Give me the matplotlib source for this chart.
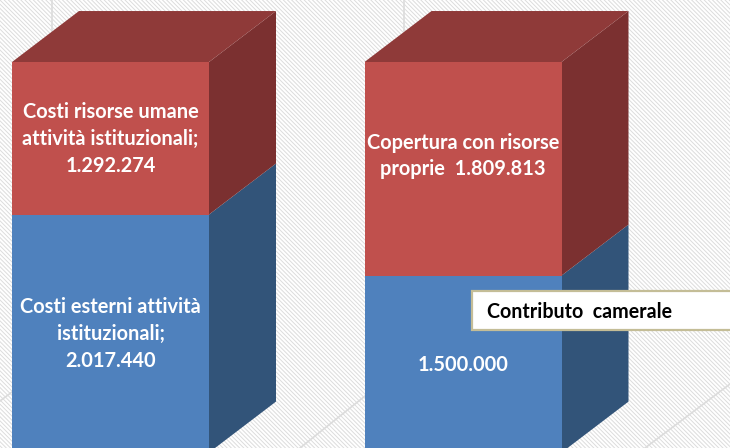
import matplotlib
matplotlib.use("Agg")
import matplotlib.pyplot as plt
from matplotlib.patches import Polygon, Rectangle

categories = ["Costi", "Copertura"]
blue_values = [2017440, 1500000]
red_values = [1292274, 1809813]
blue_labels = ["Costi esterni attività\nistituzionali;\n2.017.440", "1.500.000"]
red_labels = ["Costi risorse umane\nattività istituzionali;\n1.292.274", "Copertura con risorse\nproprie  1.809.813"]
blue_label_y = [1005000, 742000]
red_label_y = [2657000, 2513000]
callout_text = "Contributo  camerale"

BLUE, BLUE_SIDE = "#4f81bd", "#325479"
RED, RED_TOP, RED_SIDE = "#c0504d", "#8f3a39", "#7b3030"

W, H = 730, 448
PX_X = 352.5      # pixels per category
PX_Y = 1 / 8474   # pixels per value
X0, Y0 = 110.5, 452.6

fig = plt.figure(figsize=(W / 100, H / 100), dpi=100, facecolor="white")
ax = fig.add_axes([0, 0, 1, 1])
ax.set_xlim(-X0 / PX_X, (W - X0) / PX_X)
ax.set_ylim((Y0 - H) / PX_Y, Y0 / PX_Y)
ax.axis("off")

plt.rcParams["hatch.linewidth"] = 0.7
ax.add_patch(Rectangle((0, 0), 1, 1, transform=ax.transAxes, facecolor="white",
                       edgecolor="#dcdcdc", hatch="\\" * 8, linewidth=0, zorder=0))

def px(x, y):
    return ((x - X0) / PX_X, (Y0 - y) / PX_Y)

for seg in [((52, 0), (52, 31)), ((404, 0), (404, 31)), ((0, 401), (12, 392)),
            ((300, 448), (365, 396)), ((645, 448), (730, 384))]:
    (x1, y1), (x2, y2) = px(*seg[0]), px(*seg[1])
    ax.plot([x1, x2], [y1, y2], color="#dcdcdc", lw=1.2, zorder=1)

width = 197 / PX_X
dx, dy = 67 / PX_X, 51 / PX_Y
pos = range(len(categories))

for i in pos:
    l, r = i - width / 2, i + width / 2
    b, t = blue_values[i], blue_values[i] + red_values[i]
    ax.add_patch(Polygon([(r, 0), (r + dx, dy), (r + dx, b + dy), (r, b)], fc=BLUE_SIDE, ec="none", zorder=2))
    ax.add_patch(Polygon([(r, b), (r + dx, b + dy), (r + dx, t + dy), (r, t)], fc=RED_SIDE, ec="none", zorder=2))
    ax.add_patch(Polygon([(l, t), (l + dx, t + dy), (r + dx, t + dy), (r, t)], fc=RED_TOP, ec="none", zorder=2))

ax.bar(pos, blue_values, width=width, color=BLUE, zorder=3)
ax.bar(pos, red_values, width=width, bottom=blue_values, color=RED, zorder=3)

fp = dict(family="Lato", fontweight="bold", color="white", ha="center", va="center",
          fontsize=14.4, linespacing=1.42, zorder=4)
for i in pos:
    ax.text(i, blue_label_y[i], blue_labels[i], **fp)
    ax.text(i, red_label_y[i], red_labels[i], **fp)

x1, y1 = px(471.5, 330)
x2, y2 = px(735, 290.5)
ax.add_patch(Rectangle((x1, y1), x2 - x1, y2 - y1, fc="white", ec="#c4bd97", lw=1.6, zorder=5))
tx, ty = px(487, 311.5)
ax.text(tx, ty, callout_text, family="Lato", fontweight="bold", color="black",
        ha="left", va="center", fontsize=14.1, zorder=6)

fig.savefig("out.png", dpi=100)
